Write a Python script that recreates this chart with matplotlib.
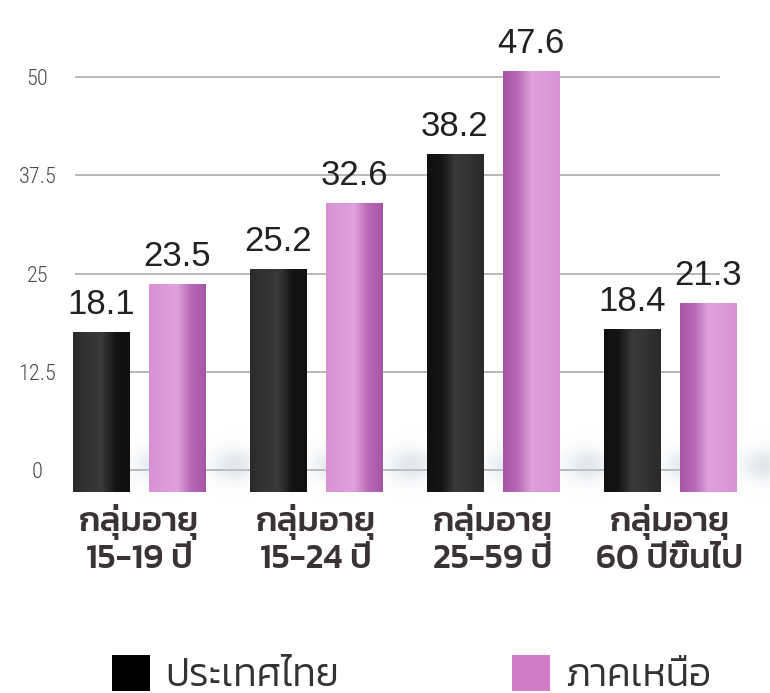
import numpy as np
import matplotlib
matplotlib.use("Agg")
import matplotlib.pyplot as plt
from matplotlib.colors import LinearSegmentedColormap, to_rgb

# data
groups = ["กลุ่มอายุ\n15-19 ปี", "กลุ่มอายุ\n15-24 ปี", "กลุ่มอายุ\n25-59 ปี", "กลุ่มอายุ\n60 ปีขึ้นไป"]
thailand = [18.1, 25.2, 38.2, 18.4]
north = [23.5, 32.6, 47.6, 21.3]
series_names = ["ประเทศไทย", "ภาคเหนือ"]
yticks = [0, 12.5, 25, 37.5, 50]
ytick_labels = ["0", "12.5", "25", "37.5", "50"]

NARROW = ["Liberation Sans Narrow", "Roboto Condensed", "Liberation Sans", "DejaVu Sans"]
NUM = ["Liberation Sans", "Arimo", "DejaVu Sans"]
THAI = ["Kanit", "Noto Sans Thai", "DejaVu Sans"]

W, H = 770, 693
fig = plt.figure(figsize=(W / 100, H / 100), dpi=100)
fig.patch.set_facecolor("white")


def px(x0, y_top, x1, y_bot):
    return [x0 / W, 1 - y_bot / H, (x1 - x0) / W, (y_bot - y_top) / H]


# grid axes (the labelled scale)
gs = 7.86
ax_g = fig.add_axes(px(75, 77 - gs, 720, 470 + gs))
ax_g.set_ylim(-1, 51)
ax_g.set_xlim(0, 1)
ax_g.set_yticks(yticks)
ax_g.set_yticklabels(ytick_labels, fontfamily=NARROW, fontweight="light", fontsize=16, color="#4a4a4a")
for t in ax_g.get_yticklabels():
    t.set_ha("center")
ax_g.tick_params(axis="y", length=0, pad=27)
ax_g.set_xticks([])
ax_g.grid(axis="y", color="#b8b8b8", linewidth=1.4)
for s in ax_g.spines.values():
    s.set_visible(False)
ax_g.set_facecolor("none")

# bar axes
bs = 8.85
ax_b = fig.add_axes(px(0, 50, W, 500))
ymax = (500 - 50) / bs
xlo, xhi = -139 / 177, (W - 139) / 177
ax_b.set_facecolor("none")
for s in ax_b.spines.values():
    s.set_visible(False)
ax_b.set_yticks([])

x = np.arange(len(groups))
off, bw = 0.215, 0.32
b1 = ax_b.bar(x - off, thailand, bw, color="#2e2e2e", linewidth=0, label=series_names[0])
b2 = ax_b.bar(x + off, north, bw, color="#dc9ad8", linewidth=0, label=series_names[1])

# soft floor shadow behind the bars
sx = np.linspace(xlo, xhi, 400)
sy = np.linspace(-1.5, 9, 80)
SX, SY = np.meshgrid(sx, sy)
dens = np.zeros_like(SX)
for bars in (b1, b2):
    for r in bars:
        cx = r.get_x() + r.get_width() * 1.5
        dens += np.exp(-((SX - cx) / 0.12) ** 2 - ((SY - 3.0) / 1.8) ** 2)
dens = np.clip(dens, 0, 1)
shadow = np.zeros(SX.shape + (4,))
shadow[..., :3] = to_rgb("#c2cfdb")
shadow[..., 3] = 0.5 * dens
ax_b.imshow(shadow, extent=(xlo, xhi, -1.5, 9), origin="lower", aspect="auto", zorder=0.5,
            interpolation="bilinear")

# shaded faces on the bars
mid = (xlo + xhi) / 2
cm_dark = LinearSegmentedColormap.from_list("d", ["#101010", "#141414", "#3a3a3a", "#333333", "#2a2a2a"])
cm_pink = LinearSegmentedColormap.from_list("p", ["#a955a6", "#b868b5", "#dfa2db", "#dc9ad8", "#d892d4"])
for bars, cmap in ((b1, cm_dark), (b2, cm_pink)):
    for r in bars:
        x0, w, h = r.get_x(), r.get_width(), r.get_height()
        grad = np.linspace(0, 1, 64)[None, :]
        if x0 + w / 2 < mid:
            grad = grad[:, ::-1]
        im = ax_b.imshow(grad, cmap=cmap, extent=(x0, x0 + w, 0, h), aspect="auto",
                         zorder=2, interpolation="bicubic")
        im.set_clip_path(r)
    ax_b.bar_label(bars, labels=[f"{v:.1f}" for v in bars.datavalues], padding=8,
                   fontsize=25, color="#222222", fontfamily=NUM)
ax_b.set_xlim(xlo, xhi)
ax_b.set_ylim(-8 / bs, ymax - 8 / bs)

ax_b.set_xticks(x)
ax_b.set_xticklabels(groups, fontfamily=THAI, fontweight=500, fontsize=25,
                     color="#3b3333", linespacing=1.15)
ax_b.tick_params(axis="x", length=0, pad=3)

leg = fig.legend(handles=[b1, b2], labels=series_names, loc="upper left",
                 bbox_to_anchor=(112 / W, 1 - 655 / H), ncol=2, frameon=False,
                 prop={"family": THAI, "size": 28, "weight": 300}, handlelength=0.98,
                 handleheight=1.05, handletextpad=0.38, columnspacing=4.45, borderpad=0,
                 borderaxespad=0)
for t in leg.get_texts():
    t.set_color("#333333")
leg.legend_handles[0].set_color("#000000")
leg.legend_handles[1].set_color("#d07cc8")

fig.savefig("out.png", dpi=100)
